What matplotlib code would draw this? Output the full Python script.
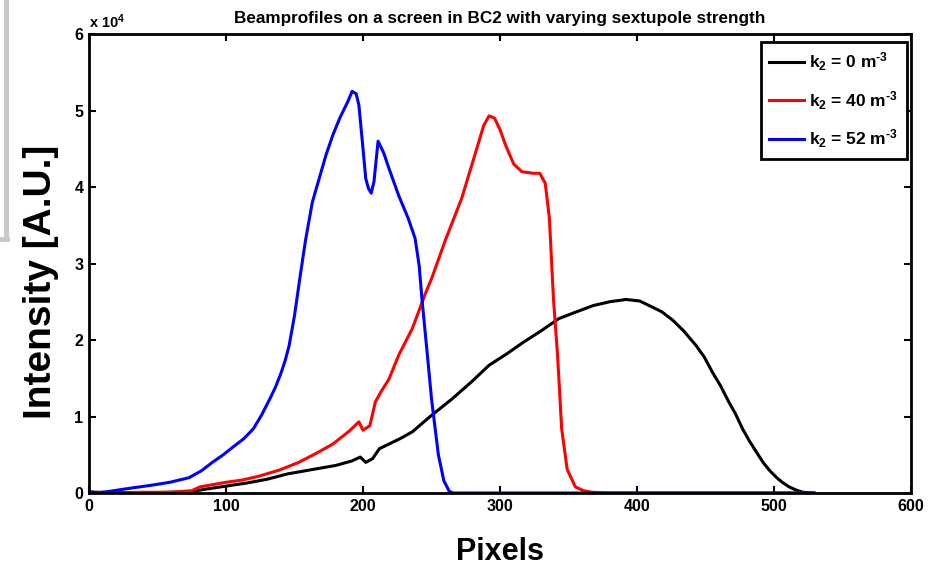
import matplotlib
matplotlib.use('Agg')
import matplotlib.pyplot as plt
from matplotlib.lines import Line2D

plt.rcParams['font.family'] = ['Liberation Sans', 'DejaVu Sans']
plt.rcParams['font.weight'] = 'bold'
plt.rcParams['mathtext.fontset'] = 'custom'
plt.rcParams['mathtext.rm'] = 'Liberation Sans:bold'
plt.rcParams['mathtext.bf'] = 'Liberation Sans:bold'
plt.rcParams['mathtext.it'] = 'Liberation Sans:bold'
plt.rcParams['mathtext.default'] = 'rm'

# profiles (intensity in units of 1e4)
x_k0 = [0, 20, 40, 60, 75, 85, 100, 115, 130, 145, 164, 180, 192, 198, 202, 207, 212,
        227, 236, 249, 265, 279, 292, 305, 317, 330, 343, 356, 368, 380, 392, 402,
        410, 418, 426, 434, 443, 449, 455, 461, 467, 472, 477, 482, 487, 492, 497,
        502, 506, 511, 516, 521, 529]
y_k0 = [0.01, 0.01, 0.0, 0.01, 0.02, 0.05, 0.09, 0.13, 0.18, 0.25, 0.31, 0.36, 0.42, 0.47,
        0.40, 0.45, 0.58, 0.71, 0.80, 1.00, 1.23, 1.45, 1.67, 1.82, 1.97, 2.12, 2.28,
        2.37, 2.45, 2.50, 2.53, 2.51, 2.44, 2.37, 2.26, 2.12, 1.93, 1.78, 1.58, 1.40,
        1.19, 1.03, 0.84, 0.68, 0.54, 0.40, 0.29, 0.20, 0.14, 0.08, 0.04, 0.01, 0.0]

x_k40 = [0, 20, 40, 60, 75, 81, 100, 112, 124, 139, 153, 166, 178, 190, 197, 200, 205,
         209, 213, 219, 226, 236, 246, 250, 260, 272, 283, 288, 292, 296, 300, 304,
         310, 316, 324, 329, 333, 336, 339, 342, 345, 349, 355, 361, 367, 380, 529]
y_k40 = [0.01, 0.0, 0.01, 0.01, 0.03, 0.08, 0.14, 0.17, 0.22, 0.30, 0.40, 0.52, 0.64,
         0.81, 0.93, 0.82, 0.88, 1.19, 1.32, 1.49, 1.80, 2.15, 2.63, 2.80, 3.30, 3.85,
         4.50, 4.80, 4.93, 4.90, 4.75, 4.55, 4.30, 4.20, 4.18, 4.18, 4.05, 3.60, 2.54,
         1.80, 0.84, 0.31, 0.08, 0.03, 0.01, 0.0, 0.0]

x_k52 = [0, 7, 29, 45, 59, 73, 82, 90, 98, 105, 113, 120, 126, 132, 136, 140, 143,
         146, 150, 154, 158, 163, 168, 173, 178, 183, 189, 192, 195, 197, 200, 202,
         204, 206, 208, 211, 215, 219, 226, 233, 238, 241, 243, 247, 250, 255, 259,
         263, 266, 529]
y_k52 = [0.02, 0.0, 0.06, 0.10, 0.14, 0.20, 0.29, 0.40, 0.50, 0.60, 0.71, 0.84, 1.02,
         1.23, 1.38, 1.56, 1.72, 1.92, 2.32, 2.82, 3.30, 3.80, 4.11, 4.42, 4.68, 4.90,
         5.12, 5.25, 5.22, 5.07, 4.50, 4.11, 3.98, 3.92, 4.07, 4.60, 4.45, 4.24, 3.89,
         3.59, 3.33, 2.97, 2.54, 1.80, 1.23, 0.50, 0.16, 0.02, 0.0, 0.0]

labels = [r'k$_2$ = 0 m$^{\text{-3}}$', r'k$_2$ = 40 m$^{\text{-3}}$',
          r'k$_2$ = 52 m$^{\text{-3}}$']
colors = ['black', 'red', 'blue']

fig = plt.figure(figsize=(9.32, 5.67), dpi=100)
ax = fig.add_axes([0.0955, 0.1305, 0.882, 0.8095])

for xs, ys, lab, c in zip([x_k0, x_k40, x_k52], [y_k0, y_k40, y_k52], labels, colors):
    ax.plot(xs, ys, color=c, lw=2.2, label=lab)

ax.set_xlim(0, 600)
ax.set_ylim(0, 6)
ax.set_xticks(range(0, 601, 100))
ax.set_yticks(range(0, 7))
ax.tick_params(direction='in', length=5, width=1.5, top=True, right=True,
               labelsize=11.5, pad=4)
for s in ax.spines.values():
    s.set_linewidth(2)

ax.text(0.0, 1.006, r'x 10$^4$', transform=ax.transAxes, fontsize=10.5,
        fontweight='bold', ha='left', va='bottom')
ax.set_title('Beamprofiles on a screen in BC2 with varying sextupole strength',
             fontsize=12.3, fontweight='bold', pad=8)
ax.set_xlabel('Pixels', fontsize=22, fontweight='bold', labelpad=17)
ax.set_ylabel('Intensity [A.U.]', fontsize=28, fontweight='bold')
ax.yaxis.set_label_coords(-0.037, 0.46)

leg = ax.legend(loc='upper right', bbox_to_anchor=(0.995, 0.983), borderaxespad=0,
                fontsize=12.5, fancybox=False, edgecolor='black', framealpha=1,
                handlelength=2.0, borderpad=0.5, labelspacing=0.92, handletextpad=0.3)
leg.get_frame().set_linewidth(2)

# grey frame edge at the left of the picture
fig.add_artist(Line2D([0.006, 0.006], [1.0, 0.578], color='#c8c8c8', lw=3.5))
fig.add_artist(Line2D([0.0, 0.008], [0.579, 0.579], color='#c8c8c8', lw=3.5))

fig.savefig('out.png', dpi=100)
